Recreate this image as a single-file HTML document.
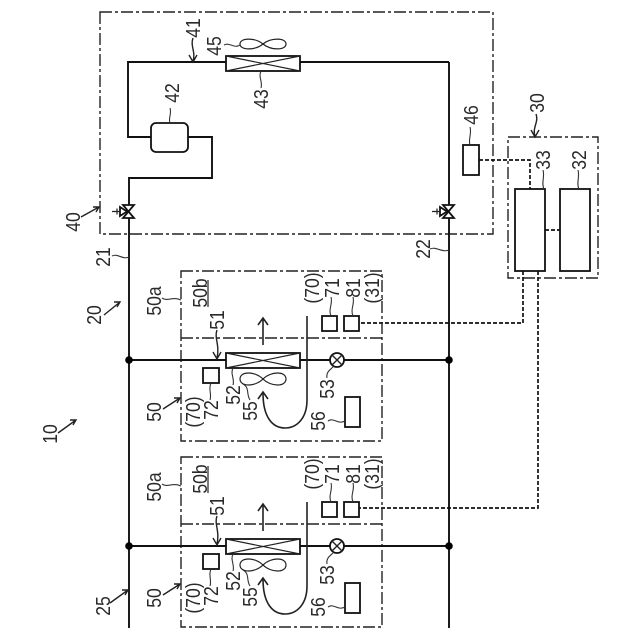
<!DOCTYPE html>
<html>
<head>
<meta charset="utf-8">
<style>
html,body{margin:0;padding:0;background:#fff;}
svg{display:block;}
text{font-family:"Liberation Sans",sans-serif;font-size:20px;fill:#2a2a2a;text-anchor:middle;}
.p{fill:none;stroke:#111;stroke-width:1.9;}
.b{fill:#fff;stroke:#111;stroke-width:1.8;}
.t{fill:none;stroke:#222;stroke-width:1.2;}
.d{fill:none;stroke:#222;stroke-width:1.4;stroke-dasharray:12 3 3 3;}
.s{fill:none;stroke:#111;stroke-width:1.7;stroke-dasharray:4 2;}
.l{fill:none;stroke:#333;stroke-width:1.1;}
.a{fill:none;stroke:#222;stroke-width:1.4;}
</style>
</head>
<body>
<svg width="640" height="640" viewBox="0 0 640 640" xmlns="http://www.w3.org/2000/svg">
<rect width="640" height="640" fill="#fff"/>

<!-- outdoor unit box -->
<rect class="d" x="100" y="12" width="393" height="222"/>
<!-- control box -->
<rect class="d" x="508" y="137" width="90" height="141"/>

<!-- main pipes -->
<path class="p" d="M129 218V628"/>
<path class="p" d="M449 62V205M449 218V628"/>
<path class="p" d="M226 62H128V137H151M188 137H212V178H129V205"/>
<path class="p" d="M300 62H449"/>

<!-- outdoor components -->
<rect class="b" x="226" y="56" width="74" height="15"/>
<path class="t" d="M226 56L300 71M226 71L300 56"/>
<rect class="b" x="151" y="123" width="37" height="29" rx="5"/>
<path class="t" d="M263 44C255 37.500 240 37.500 240 44C240 50.500 255 50.500 263 44C271 37.500 286 37.500 286 44C286 50.500 271 50.500 263 44Z"/>

<!-- valves -->
<g>
<path class="b" d="M123 205H134L128.500 211.500ZM123 218H134L128.500 211.500Z"/>
<path class="b" d="M120 207V216L127 211.500Z"/>
<path class="t" d="M112 211.500H120M117 208.500V214.500"/>
</g>
<g transform="translate(320,0)">
<path class="b" d="M123 205H134L128.500 211.500ZM123 218H134L128.500 211.500Z"/>
<path class="b" d="M120 207V216L127 211.500Z"/>
<path class="t" d="M112 211.500H120M117 208.500V214.500"/>
</g>

<!-- sensors / control -->
<rect class="b" x="463" y="145" width="16" height="30"/>
<rect class="b" x="515" y="189" width="30" height="82"/>
<rect class="b" x="560" y="189" width="30" height="82"/>

<!-- signal lines -->
<path class="s" d="M479 160H530V189"/>
<path class="s" d="M545 230H560"/>
<path class="s" d="M523 271V323H359"/>
<path class="s" d="M538 271V508H359"/>

<!-- unit 1 -->
<g>
<rect class="d" x="181" y="271" width="201" height="170"/>
<path class="d" d="M181 338H382"/>
<path class="p" d="M129 360H330M344 360H449"/>
<circle cx="129" cy="360" r="3.800" fill="#000"/>
<circle cx="449" cy="360" r="3.800" fill="#000"/>
<rect class="b" x="226" y="353" width="74" height="15"/>
<path class="t" d="M226 353L300 368M226 368L300 353"/>
<circle class="b" cx="337" cy="360" r="7"/>
<path class="t" d="M332 355L342 365M332 365L342 355" style="stroke-width:1.400"/>
<rect class="b" x="203" y="368" width="16" height="15"/>
<rect class="b" x="322" y="316" width="15" height="15"/>
<rect class="b" x="344" y="316" width="15" height="15"/>
<rect class="b" x="345" y="397" width="15" height="30"/>
<path class="t" d="M263 379C255 371 240 371 240 379C240 387 255 387 263 379C271 371 286 371 286 379C286 387 271 387 263 379Z"/>
<path class="a" d="M307 316V400C307 418 297 428 285 428C273 428 263 418 263 393" style="stroke-width:1.600"/>
<path class="a" d="M258 399L263 392L268 399" style="stroke-width:1.600"/>
<path class="a" d="M263 345V319M258 325L263 318L268 325" style="stroke-width:1.600"/>
<path class="a" d="M217 330C214 338 220 345 217 358M213 352L217 359L221 352"/>
<path class="a" d="M163 409L180 398M174 398L180 398L177 403"/>
<path class="l" d="M162 298C168 302 172 296 181 300"/>
<path class="l" d="M211 383C208 389 212 394 210 400"/>
<path class="l" d="M233 368C230 374 235 379 233 385"/>
<path class="l" d="M243 384C250 388 246 394 250 400"/>
<path class="l" d="M331 297C333 304 328 309 331 316"/>
<path class="l" d="M353 297C355 304 350 309 353 316"/>
<path class="l" d="M327 378C326 372 330 370 333 367"/>
<path class="l" d="M328 421C334 417 338 425 345 421"/>
<path d="M208 280V307" stroke="#222" stroke-width="1.200"/>
<text transform="translate(161,301) rotate(-90) scale(.88,1)">50a</text>
<text transform="translate(207,293) rotate(-90) scale(.88,1)">50b</text>
<text transform="translate(224,320) rotate(-90) scale(.88,1)">51</text>
<text transform="translate(161,412) rotate(-90) scale(.88,1)">50</text>
<text transform="translate(200,412) rotate(-90) scale(.88,1)">(70)</text>
<text transform="translate(218,410) rotate(-90) scale(.88,1)">72</text>
<text transform="translate(240,395) rotate(-90) scale(.88,1)">52</text>
<text transform="translate(257,411) rotate(-90) scale(.88,1)">55</text>
<text transform="translate(319,288) rotate(-90) scale(.88,1)">(70)</text>
<text transform="translate(339,288) rotate(-90) scale(.88,1)">71</text>
<text transform="translate(360,288) rotate(-90) scale(.88,1)">81</text>
<text transform="translate(379,288) rotate(-90) scale(.88,1)">(31)</text>
<text transform="translate(334,389) rotate(-90) scale(.88,1)">53</text>
<text transform="translate(325,421) rotate(-90) scale(.88,1)">56</text>
</g>

<!-- unit 2 -->
<g transform="translate(0,186)">
<rect class="d" x="181" y="271" width="201" height="170"/>
<path class="d" d="M181 338H382"/>
<path class="p" d="M129 360H330M344 360H449"/>
<circle cx="129" cy="360" r="3.800" fill="#000"/>
<circle cx="449" cy="360" r="3.800" fill="#000"/>
<rect class="b" x="226" y="353" width="74" height="15"/>
<path class="t" d="M226 353L300 368M226 368L300 353"/>
<circle class="b" cx="337" cy="360" r="7"/>
<path class="t" d="M332 355L342 365M332 365L342 355" style="stroke-width:1.400"/>
<rect class="b" x="203" y="368" width="16" height="15"/>
<rect class="b" x="322" y="316" width="15" height="15"/>
<rect class="b" x="344" y="316" width="15" height="15"/>
<rect class="b" x="345" y="397" width="15" height="30"/>
<path class="t" d="M263 379C255 371 240 371 240 379C240 387 255 387 263 379C271 371 286 371 286 379C286 387 271 387 263 379Z"/>
<path class="a" d="M307 316V400C307 418 297 428 285 428C273 428 263 418 263 393" style="stroke-width:1.600"/>
<path class="a" d="M258 399L263 392L268 399" style="stroke-width:1.600"/>
<path class="a" d="M263 345V319M258 325L263 318L268 325" style="stroke-width:1.600"/>
<path class="a" d="M217 330C214 338 220 345 217 358M213 352L217 359L221 352"/>
<path class="a" d="M163 409L180 398M174 398L180 398L177 403"/>
<path class="l" d="M162 298C168 302 172 296 181 300"/>
<path class="l" d="M211 383C208 389 212 394 210 400"/>
<path class="l" d="M233 368C230 374 235 379 233 385"/>
<path class="l" d="M243 384C250 388 246 394 250 400"/>
<path class="l" d="M331 297C333 304 328 309 331 316"/>
<path class="l" d="M353 297C355 304 350 309 353 316"/>
<path class="l" d="M327 378C326 372 330 370 333 367"/>
<path class="l" d="M328 421C334 417 338 425 345 421"/>
<path d="M208 280V307" stroke="#222" stroke-width="1.200"/>
<text transform="translate(161,301) rotate(-90) scale(.88,1)">50a</text>
<text transform="translate(207,293) rotate(-90) scale(.88,1)">50b</text>
<text transform="translate(224,320) rotate(-90) scale(.88,1)">51</text>
<text transform="translate(161,412) rotate(-90) scale(.88,1)">50</text>
<text transform="translate(200,412) rotate(-90) scale(.88,1)">(70)</text>
<text transform="translate(218,410) rotate(-90) scale(.88,1)">72</text>
<text transform="translate(240,395) rotate(-90) scale(.88,1)">52</text>
<text transform="translate(257,411) rotate(-90) scale(.88,1)">55</text>
<text transform="translate(319,288) rotate(-90) scale(.88,1)">(70)</text>
<text transform="translate(339,288) rotate(-90) scale(.88,1)">71</text>
<text transform="translate(360,288) rotate(-90) scale(.88,1)">81</text>
<text transform="translate(379,288) rotate(-90) scale(.88,1)">(31)</text>
<text transform="translate(334,389) rotate(-90) scale(.88,1)">53</text>
<text transform="translate(325,421) rotate(-90) scale(.88,1)">56</text>
</g>

<!-- leaders and arrows, upper area -->
<path class="a" d="M193 38C190 46 196 52 193 61M189 55L193 62L197 55"/>
<path class="l" d="M224 45C230 42 234 49 240 45"/>
<path class="l" d="M261 71C258 77 263 82 261 88"/>
<path class="l" d="M170 108C172 114 168 118 170 123"/>
<path class="a" d="M81 217L99 207M93 207L99 207L96 212"/>
<path class="l" d="M470 127C472 134 468 139 470 145"/>
<path class="a" d="M536 114C539 122 532 128 535 136M531 130L535 137L539 130"/>
<path class="l" d="M543 170C545 177 541 183 544 189"/>
<path class="l" d="M578 170C580 177 576 183 579 189"/>
<path class="l" d="M430 249C436 246 442 253 449 250"/>
<path class="l" d="M112 256C118 253 122 260 129 257"/>
<path class="a" d="M104 315L120 302M114 302L120 302L117 307"/>
<path class="a" d="M58 433L76 420M70 420L76 420L73 425"/>
<path class="a" d="M110 603L128 590M122 590L128 590L125 595"/>

<!-- labels, upper area -->
<text transform="translate(200,28) rotate(-90) scale(.88,1)">41</text>
<text transform="translate(221,46) rotate(-90) scale(.88,1)">45</text>
<text transform="translate(268,99) rotate(-90) scale(.88,1)">43</text>
<text transform="translate(179,93) rotate(-90) scale(.88,1)">42</text>
<text transform="translate(80,222) rotate(-90) scale(.88,1)">40</text>
<text transform="translate(478,115) rotate(-90) scale(.88,1)">46</text>
<text transform="translate(544,103) rotate(-90) scale(.88,1)">30</text>
<text transform="translate(550,160) rotate(-90) scale(.88,1)">33</text>
<text transform="translate(586,160) rotate(-90) scale(.88,1)">32</text>
<text transform="translate(430,249) rotate(-90) scale(.88,1)">22</text>
<text transform="translate(110,257) rotate(-90) scale(.88,1)">21</text>
<text transform="translate(101,315) rotate(-90) scale(.88,1)">20</text>
<text transform="translate(57,434) rotate(-90) scale(.88,1)">10</text>
<text transform="translate(110,606) rotate(-90) scale(.88,1)">25</text>
</svg>
</body>
</html>
